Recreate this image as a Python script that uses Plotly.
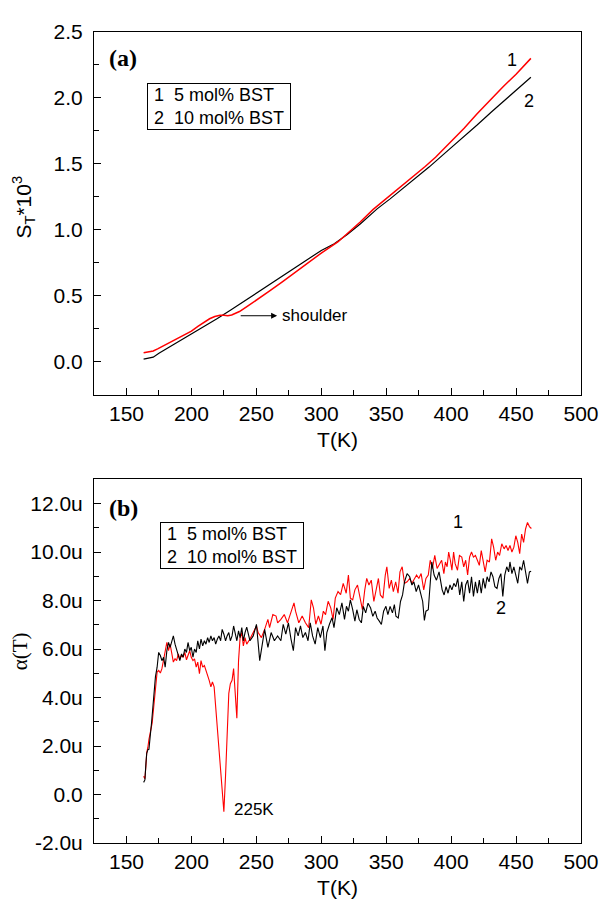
import plotly.graph_objects as go

# ---------------- Panel (a): S_T*10^3 vs T ----------------
a1_points = [  # curve 1: 5 mol% BST (red)
    (163.2, 0.068), (166, 0.072), (170.6, 0.082), (174, 0.098), (178, 0.119),
    (185, 0.155), (190, 0.18), (195, 0.207), (200, 0.233), (205, 0.268),
    (210, 0.300), (214, 0.326), (218, 0.343), (222, 0.352), (225, 0.352),
    (228, 0.349), (231, 0.355), (234, 0.368), (237, 0.381), (243, 0.420),
    (250, 0.465), (260, 0.535), (270, 0.605), (280, 0.677), (290, 0.750),
    (300, 0.824), (313, 0.910), (320, 0.970), (330, 1.060), (340, 1.155),
    (350, 1.235), (360, 1.315), (370, 1.395), (380, 1.480), (388, 1.550),
    (400, 1.670), (410, 1.770), (420, 1.880), (431, 1.996), (440, 2.085),
    (450, 2.180), (461.4, 2.300),
]
a2_points = [  # curve 2: 10 mol% BST (black)
    (163.2, 0.020), (166, 0.024), (170.6, 0.035), (175, 0.064), (180, 0.093),
    (190, 0.152), (200, 0.210), (210, 0.270), (220, 0.328), (230, 0.390),
    (240, 0.455), (250, 0.520), (260, 0.585), (270, 0.650), (280, 0.714),
    (290, 0.779), (300, 0.844), (310, 0.895), (320, 0.965), (330, 1.045),
    (343, 1.159), (353, 1.235), (363, 1.315), (373, 1.395), (383, 1.476),
    (395, 1.580), (405, 1.665), (420, 1.795), (431, 1.894), (440, 1.970),
    (450, 2.055), (461.4, 2.157),
]

# ---------------- Panel (b): alpha(T) (in units of 1e-6) ----------------
b1_points = [  # curve 1: 5 mol% BST (red)
    (163.2, 0.75), (164.2, 0.65), (165.0, 1.2), (165.6, 1.73), (166.5, 1.95),
    (167.3, 2.27), (169.8, 2.95), (171.0, 3.63), (172.3, 4.57), (173.6, 5.05),
    (174.8, 5.12), (176.1, 5.01), (177.3, 5.19), (178.6, 5.5), (179.8, 5.9),
    (181.1, 6.27), (182.4, 5.93), (183.6, 6.2), (184.9, 5.8), (186.1, 5.46),
    (187.4, 5.6), (188.6, 5.52), (189.9, 5.8), (191.1, 5.59), (192.4, 5.75),
    (193.6, 5.66), (194.9, 5.86), (196.2, 5.55), (196.9, 5.66), (198.7, 5.93),
    (199.9, 5.66), (201.2, 5.52), (202.4, 5.59), (203.7, 5.25), (204.9, 5.46),
    (206.2, 4.98), (207.4, 5.52), (208.7, 5.25), (210.0, 5.32), (211.2, 5.12),
    (212.5, 4.98), (213.7, 4.71), (215.0, 4.44), (216.2, 4.64), (217.5, 4.44),
    (218.7, 3.63), (220.0, 2.54), (221.2, 1.73), (222.5, 0.91), (223.7, 0.1),
    (225.0, -0.71), (226.3, 0.78), (227.5, 2.54), (228.8, 4.17), (230.0, 4.57),
    (231.3, 4.71), (232.5, 5.19), (233.8, 3.9), (235.0, 3.15), (236.3, 5.52),
    (237.5, 6.47), (238.8, 6.68), (240.0, 6.13), (241.3, 6.47), (242.6, 6.2),
    (245.1, 6.41), (247.6, 6.68), (250.1, 6.95), (251.4, 6.68), (253.9, 6.47),
    (256.4, 6.81), (258.9, 7.22), (260.2, 6.88), (262.7, 7.42), (265.2, 7.36),
    (266.4, 7.08), (268.9, 7.22), (271.5, 7.42), (274.0, 7.08), (276.5, 7.49),
    (279.0, 7.9), (280.2, 7.56), (282.7, 7.08), (285.3, 7.36), (287.8, 7.08),
    (290.3, 6.88), (292.3, 8.03), (294.0, 7.7), (295.8, 7.02), (297.8, 7.36),
    (299.8, 7.02), (301.6, 7.56), (303.3, 7.42), (305.3, 7.97), (307.3, 7.7),
    (309.1, 7.22), (310.8, 8.1), (312.9, 8.37), (314.9, 8.24), (316.9, 8.71),
    (317.9, 8.5), (319.2, 8.3), (320.9, 9.05), (322.4, 8.1), (324.2, 8.03),
    (325.9, 8.44), (327.9, 8.64), (329.9, 8.1), (331.7, 7.62), (333.5, 8.44),
    (335.0, 8.91), (336.7, 8.64), (338.5, 8.84), (340.5, 7.96), (342.2, 8.44),
    (344.0, 8.91), (345.5, 8.23), (347.5, 8.1), (349.3, 9.05), (350.5, 9.39),
    (352.3, 8.5), (354.0, 8.84), (355.5, 8.37), (357.3, 8.77), (359.1, 8.3),
    (360.6, 9.18), (362.3, 9.39), (364.1, 8.71), (366.1, 8.77), (368.1, 8.91),
    (369.8, 8.71), (371.6, 8.91), (373.4, 9.05), (375.1, 8.91), (376.9, 9.11),
    (378.9, 8.44), (380.6, 8.91), (382.4, 9.05), (383.9, 9.66), (385.6, 9.32),
    (387.4, 9.86), (389.2, 9.32), (390.9, 9.52), (392.7, 9.66), (394.4, 9.11),
    (395.6, 9.59), (396.9, 9.39), (398.1, 10.0), (399.4, 9.66), (400.6, 9.25),
    (401.9, 10.0), (403.1, 9.52), (404.9, 9.25), (406.4, 9.86), (408.2, 9.79),
    (409.7, 9.39), (411.2, 9.66), (412.7, 9.05), (414.2, 9.79), (415.7, 10.0),
    (417.2, 9.79), (418.7, 9.86), (420.2, 9.66), (421.7, 9.45), (423.2, 10.06),
    (424.7, 9.66), (426.2, 9.18), (427.7, 9.66), (429.5, 9.59), (431.2, 10.54),
    (432.7, 10.2), (434.3, 9.66), (435.8, 10.0), (437.3, 9.86), (439.0, 10.34),
    (440.8, 10.13), (442.3, 10.27), (443.8, 10.06), (445.3, 10.27), (446.8, 10.0),
    (448.3, 10.2), (449.8, 10.67), (451.3, 10.4), (452.8, 9.93), (454.3, 10.74),
    (455.8, 10.4), (457.3, 10.95), (458.8, 11.22), (460.3, 11.05), (461.8, 10.97),
]
b2_points = [  # curve 2: 10 mol% BST (black)
    (163.2, 0.5), (164.2, 0.6), (165.0, 1.3), (165.6, 1.7), (166.5, 1.85),
    (167.3, 1.86), (169.3, 2.95), (171.0, 3.9), (172.3, 4.85), (173.6, 5.25),
    (174.8, 5.86), (176.1, 5.73), (177.3, 5.52), (178.6, 5.66), (179.8, 5.25),
    (181.1, 5.93), (182.4, 6.27), (183.6, 6.07), (184.9, 6.34), (186.1, 6.54),
    (187.4, 6.2), (188.6, 6.0), (189.9, 5.8), (191.1, 5.52), (192.4, 5.8),
    (193.6, 5.66), (194.9, 6.0), (196.2, 5.86), (197.4, 6.27), (198.7, 5.93),
    (199.9, 6.07), (201.2, 5.66), (202.4, 6.0), (203.7, 5.86), (204.9, 6.34),
    (206.2, 6.0), (207.4, 6.41), (208.7, 6.13), (210.0, 6.34), (211.2, 6.2),
    (212.5, 6.47), (213.7, 6.27), (215.0, 6.54), (216.2, 6.34), (217.5, 6.47),
    (218.7, 6.2), (220.0, 6.41), (221.2, 6.54), (222.5, 6.34), (223.7, 6.81),
    (225.0, 6.61), (226.3, 6.34), (227.5, 6.54), (228.8, 6.68), (230.0, 6.34),
    (231.3, 6.54), (232.5, 6.95), (233.8, 6.61), (235.0, 6.34), (236.3, 6.75),
    (237.5, 6.47), (238.8, 6.88), (240.0, 6.34), (241.3, 6.68), (242.6, 6.9),
    (245.1, 6.34), (247.6, 6.54), (250.1, 7.02), (252.6, 5.52), (254.6, 6.2),
    (256.4, 6.81), (258.9, 6.07), (261.4, 6.68), (263.9, 6.34), (266.4, 6.54),
    (268.9, 6.34), (270.7, 7.02), (272.7, 6.61), (274.7, 7.08), (276.7, 6.41),
    (278.5, 5.93), (280.2, 6.88), (282.2, 6.54), (284.0, 6.95), (285.8, 6.47),
    (287.8, 6.68), (289.8, 6.34), (291.5, 7.08), (293.3, 6.54), (295.3, 6.2),
    (297.3, 6.88), (299.3, 6.47), (301.3, 6.95), (302.8, 5.93), (304.3, 6.68),
    (306.3, 7.02), (308.3, 7.29), (309.8, 6.88), (311.9, 7.7), (313.9, 7.42),
    (315.9, 7.9), (317.9, 7.22), (319.4, 7.76), (320.9, 7.56), (322.4, 8.03),
    (324.2, 7.62), (325.9, 7.15), (327.4, 7.62), (329.2, 7.22), (330.9, 7.08),
    (332.4, 7.76), (334.2, 7.49), (336.0, 7.89), (338.0, 7.69), (339.7, 7.35),
    (341.5, 7.56), (343.0, 7.28), (344.7, 7.15), (346.3, 7.01), (348.0, 7.56),
    (349.8, 7.76), (351.3, 7.42), (353.0, 7.76), (354.8, 7.49), (356.3, 7.83),
    (357.5, 7.35), (359.3, 7.28), (361.0, 7.96), (362.6, 8.23), (364.1, 8.77),
    (366.1, 9.11), (368.1, 8.98), (369.8, 8.64), (371.3, 8.77), (373.1, 8.37),
    (374.9, 8.64), (376.4, 8.37), (378.1, 7.96), (379.4, 7.18), (380.6, 7.56),
    (382.4, 7.62), (383.9, 8.77), (385.1, 9.59), (386.9, 9.05), (388.7, 8.84),
    (390.7, 9.18), (392.4, 8.71), (393.1, 8.44), (394.6, 8.23), (396.1, 8.57),
    (397.6, 8.3), (399.1, 8.64), (400.6, 8.44), (402.1, 8.71), (403.6, 8.57),
    (405.1, 8.91), (406.6, 8.23), (408.2, 8.77), (409.7, 7.96), (411.2, 8.64),
    (412.7, 8.84), (414.2, 8.3), (415.7, 8.98), (417.2, 8.17), (418.7, 8.77),
    (420.2, 8.3), (421.7, 8.84), (423.2, 8.3), (424.7, 8.91), (426.2, 8.5),
    (427.7, 8.98), (429.2, 8.77), (430.7, 9.18), (432.2, 8.98), (433.7, 8.57),
    (435.3, 8.5), (436.8, 8.91), (438.3, 9.11), (439.8, 8.17), (441.3, 9.05),
    (442.8, 9.39), (444.3, 9.18), (445.3, 9.59), (446.8, 9.11), (448.3, 9.39),
    (449.8, 8.98), (451.3, 8.71), (452.8, 9.39), (454.3, 9.25), (455.8, 9.66),
    (457.3, 9.11), (458.8, 8.71), (460.3, 9.18), (461.6, 9.21),
]

legend_lines = ["\u00a01\u00a0\u00a05 mol% BST\u00a0", "\u00a02\u00a0\u00a010 mol% BST\u00a0"]
b_tickvals = [-2, 0, 2, 4, 6, 8, 10, 12]
b_ticktext = ["-2.0u", "0.0", "2.0u", "4.0u", "6.0u", "8.0u", "10.0u", "12.0u"]

SANS = "Liberation Sans, Arial, Helvetica, sans-serif"
SERIF = "Liberation Serif, Times New Roman, serif"
RED = "#ff0000"


def unzip(pts):
    return [p[0] for p in pts], [p[1] for p in pts]


fig = go.Figure()
x, y = unzip(a2_points)
fig.add_trace(go.Scatter(x=x, y=y, mode="lines", line=dict(color="black", width=1.2),
                         xaxis="x", yaxis="y", showlegend=False))
x, y = unzip(a1_points)
fig.add_trace(go.Scatter(x=x, y=y, mode="lines", line=dict(color=RED, width=1.5),
                         xaxis="x", yaxis="y", showlegend=False))
x, y = unzip(b1_points)
fig.add_trace(go.Scatter(x=x, y=y, mode="lines", line=dict(color=RED, width=1.1),
                         xaxis="x2", yaxis="y2", showlegend=False))
x, y = unzip(b2_points)
fig.add_trace(go.Scatter(x=x, y=y, mode="lines", line=dict(color="black", width=1.1),
                         xaxis="x2", yaxis="y2", showlegend=False))

tickfont = dict(family=SANS, size=21, color="black")


def xaxis_cfg(anchor):
    return dict(
        range=[125, 500], tick0=0, dtick=50, ticks="inside", ticklen=7, tickwidth=1,
        tickcolor="black", showline=True, linecolor="black", linewidth=1, mirror=True,
        minor=dict(tick0=0, dtick=25, ticks="inside", ticklen=5, tickcolor="black"),
        showgrid=False, zeroline=False, tickfont=tickfont, anchor=anchor,
        title=dict(text="T(K)", font=dict(family=SANS, size=21, color="black"), standoff=8),
    )


ya = dict(
    range=[-0.25, 2.5], tick0=0, dtick=0.5, tickformat=".1f", ticks="inside", ticklen=7,
    tickcolor="black", showline=True, linecolor="black", linewidth=1, mirror=True,
    minor=dict(tick0=0, dtick=0.25, ticks="inside", ticklen=5, tickcolor="black"),
    showgrid=False, zeroline=False, tickfont=tickfont, domain=[0.5527, 1.0], anchor="x",
    ticklabelstandoff=6,
)
yb = dict(
    range=[-2, 13], tickmode="array", tickvals=b_tickvals, ticktext=b_ticktext,
    ticks="inside", ticklen=7, tickcolor="black", showline=True, linecolor="black",
    linewidth=1, mirror=True,
    minor=dict(tickmode="linear", tick0=0, dtick=1, ticks="inside", ticklen=5, tickcolor="black"),
    showgrid=False, zeroline=False, tickfont=tickfont, domain=[0.0, 0.4485], anchor="x2",
    ticklabelstandoff=6,
)

annotations = []
# panel letters
annotations.append(dict(x=147.5, y=2.30, xref="x", yref="y", text="<b>(a)</b>", showarrow=False,
                        font=dict(family=SERIF, size=24, color="black")))
annotations.append(dict(x=148, y=11.8, xref="x2", yref="y2", text="<b>(b)</b>", showarrow=False,
                        font=dict(family=SERIF, size=24, color="black")))
# legend boxes
for xr, yr, lx, ly in [("x", "y", 165.8, 2.112), ("x2", "y2", 175.6, 11.22)]:
    annotations.append(dict(x=lx, y=ly, xref=xr, yref=yr, xanchor="left", yanchor="top",
                            text="<br>".join(legend_lines), align="left", showarrow=False,
                            bordercolor="black", borderwidth=1, borderpad=1, bgcolor="white",
                            font=dict(family=SANS, size=18, color="black")))
# curve labels
lab = dict(family=SANS, size=18, color="black")
annotations += [
    dict(x=447, y=2.29, xref="x", yref="y", text="1", showarrow=False, font=lab),
    dict(x=460, y=1.98, xref="x", yref="y", text="2", showarrow=False, font=lab),
    dict(x=405, y=11.22, xref="x2", yref="y2", text="1", showarrow=False, font=lab),
    dict(x=438.3, y=7.69, xref="x2", yref="y2", text="2", showarrow=False, font=lab),
    dict(x=230.9, y=-0.62, xref="x2", yref="y2", text="225K", xanchor="left",
         showarrow=False, font=dict(family=SANS, size=17, color="black")),
    dict(x=268.5, y=0.349, xref="x", yref="y", text="shoulder", xanchor="left",
         showarrow=False, font=dict(family=SANS, size=17, color="black")),
    dict(x=266, y=0.349, xref="x", yref="y", ax=236.8, ay=0.349, axref="x", ayref="y",
         text="", showarrow=True, arrowhead=2, arrowsize=1.2, arrowwidth=1, arrowcolor="black"),
]
# y-axis titles
annotations.append(dict(x=-0.145, y=0.784, xref="paper", yref="paper", textangle=-90,
                        xanchor="center", yanchor="middle",
                        text="S<sub>T</sub>*10<sup>3</sup>", showarrow=False,
                        font=dict(family=SANS, size=21, color="black")))
annotations.append(dict(x=-0.152, y=0.2364, xref="paper", yref="paper", textangle=-90,
                        xanchor="center", yanchor="middle",
                        text="\u03b1(T)", showarrow=False,
                        font=dict(family=SERIF, size=21, color="black")))

# The page body has an 8px default margin, so the figure is sized/offset to compensate.
fig.update_layout(
    width=603, height=900,
    margin=dict(l=86, r=20, t=12, b=63),
    paper_bgcolor="white", plot_bgcolor="white",
    xaxis=xaxis_cfg("y"), yaxis=ya,
    xaxis2=xaxis_cfg("y2"), yaxis2=yb,
    annotations=annotations,
    showlegend=False,
)

fig.write_html("out.html")
